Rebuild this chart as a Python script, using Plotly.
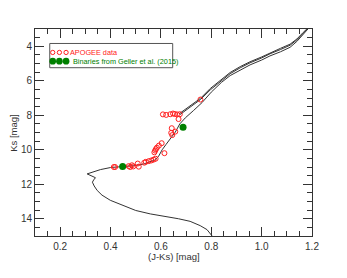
import plotly.graph_objects as go

# Isochrone: main sequence -> turnoff -> subgiant -> red giant branch
iso_x = [0.82, 0.80, 0.783, 0.756, 0.716, 0.67, 0.62, 0.558, 0.50, 0.465, 0.43, 0.399,
         0.366, 0.347, 0.335, 0.328, 0.333, 0.340, 0.307, 0.36, 0.40, 0.44, 0.49, 0.53,
         0.555, 0.575, 0.59, 0.605, 0.62, 0.637, 0.657, 0.675, 0.697, 0.730, 0.763, 0.800,
         0.840, 0.875, 0.915, 0.954, 1.0, 1.033, 1.075, 1.113, 1.14, 1.165, 1.19]
iso_y = [15.3, 14.97, 14.63, 14.40, 14.15, 14.0, 13.88, 13.72, 13.52, 13.33, 13.12, 12.93,
         12.63, 12.36, 12.1, 11.88, 11.75, 11.62, 11.40, 11.15, 11.03, 10.98, 10.93, 10.83,
         10.72, 10.6, 10.4, 10.0, 9.7, 9.35, 8.98, 8.5, 8.15, 7.72, 7.27, 6.66,
         6.1, 5.7, 5.37, 5.08, 4.8, 4.56, 4.32, 4.06, 3.72, 3.3, 2.9]

# Later evolutionary branches (two close tracks)
agb1_x = [0.672, 0.70, 0.73, 0.757, 0.796, 0.835, 0.875, 0.915, 0.954, 1.0, 1.033, 1.075, 1.113, 1.14, 1.165, 1.19]
agb1_y = [7.92, 7.63, 7.31, 7.02, 6.45, 5.97, 5.52, 5.18, 4.90, 4.62, 4.38, 4.12, 3.88, 3.58, 3.2, 2.85]
agb2_x = [0.676, 0.70, 0.73, 0.757, 0.796, 0.835, 0.875, 0.915, 0.954, 1.0, 1.033, 1.075, 1.113, 1.14, 1.165, 1.19]
agb2_y = [7.96, 7.69, 7.38, 7.09, 6.53, 6.04, 5.59, 5.25, 4.96, 4.68, 4.44, 4.19, 3.94, 3.63, 3.25, 2.87]

# APOGEE data
apogee_jk = [0.413, 0.418, 0.472, 0.478, 0.485, 0.490, 0.508, 0.512, 0.534, 0.540,
             0.552, 0.562, 0.571, 0.579, 0.574, 0.577, 0.580, 0.584, 0.592, 0.603,
             0.614, 0.608, 0.621, 0.637, 0.648, 0.655, 0.664, 0.675, 0.670,
             0.643, 0.641, 0.645, 0.657, 0.757]
apogee_ks = [11.00, 11.00, 10.95, 11.00, 10.90, 10.97, 10.80, 10.98, 10.75, 10.70,
             10.66, 10.62, 10.57, 10.52, 10.15, 10.05, 9.97, 9.88, 9.76, 9.62,
             10.20, 7.95, 7.98, 7.94, 7.90, 7.93, 7.95, 7.94, 8.22,
             8.75, 9.02, 9.15, 8.95, 7.09]

# Binaries from Geller et al. (2015)
bin_jk = [0.448, 0.688]
bin_ks = [10.97, 8.70]

x_ticks = [0.2, 0.4, 0.6, 0.8, 1.0, 1.2]
x_ticktext = ["0.2", "0.4", "0.6", "0.8", "1.0", "1.2"]
y_ticks = [4, 6, 8, 10, 12, 14]

legend_labels = ["APOGEE data", "Binaries from Geller et al. (2015)"]

LINE = "#333333"
RED = "#ff2020"
GREEN = "#008000"
FONT = "Liberation Sans, Arial, Helvetica, sans-serif"

fig = go.Figure()
fig.add_trace(go.Scatter(x=iso_x, y=iso_y, mode="lines", line=dict(color=LINE, width=1), showlegend=False))
fig.add_trace(go.Scatter(x=agb1_x, y=agb1_y, mode="lines", line=dict(color=LINE, width=1), showlegend=False))
fig.add_trace(go.Scatter(x=agb2_x, y=agb2_y, mode="lines", line=dict(color=LINE, width=1), showlegend=False))
fig.add_trace(go.Scatter(x=apogee_jk, y=apogee_ks, mode="markers",
                         marker=dict(symbol="circle-open", size=5, color=RED, line=dict(width=1)),
                         showlegend=False))
fig.add_trace(go.Scatter(x=bin_jk, y=bin_ks, mode="markers",
                         marker=dict(symbol="circle", size=7, color=GREEN),
                         showlegend=False))

axis_common = dict(
    showgrid=False, zeroline=False, showline=True, linecolor="#333333", linewidth=1,
    mirror="allticks", ticks="inside", ticklen=9, tickcolor="#333333", tickwidth=1,
    tickfont=dict(family=FONT, size=10, color="#333333"),
)
fig.update_xaxes(range=[0.1, 1.2], tickvals=x_ticks, ticktext=x_ticktext, ticklabelstandoff=1,
                 minor=dict(dtick=0.05, tick0=0.1, ticks="inside", ticklen=5, tickcolor="#333333"),
                 **axis_common)
fig.update_yaxes(range=[15, 3], tickvals=y_ticks,
                 minor=dict(dtick=0.5, tick0=3, ticks="inside", ticklen=5, tickcolor="#333333"),
                 **axis_common)

# Axis titles
fig.add_annotation(xref="paper", yref="paper", x=0.5, y=-0.099, xanchor="center", yanchor="middle",
                   showarrow=False, text="(J-Ks) [mag]", borderpad=0,
                   font=dict(family=FONT, size=9.5, color="#333333"))
fig.add_annotation(xref="paper", yref="paper", x=-0.0784, y=0.5, xanchor="center", yanchor="middle",
                   showarrow=False, text="Ks [mag]", textangle=-90,
                   font=dict(family=FONT, size=9.5, color="#333333"))

# Legend box drawn like the original (three symbols per entry)
fig.add_shape(type="rect", xref="paper", yref="paper", x0=0.0532, x1=0.4971, y0=0.8130, y1=0.9301,
              line=dict(color="#555555", width=1), fillcolor="rgba(0,0,0,0)")
sym_x = [0.0640, 0.0881, 0.1122]
row_y = [0.8867, 0.8448]
ro_w, ro_h = 4.3 / 278 / 2, 4.3 / 207.5 / 2
gf_w, gf_h = 6.7 / 278 / 2, 6.7 / 207.5 / 2
for sx in sym_x:
    fig.add_shape(type="circle", xref="paper", yref="paper",
                  x0=sx - ro_w, x1=sx + ro_w, y0=row_y[0] - ro_h, y1=row_y[0] + ro_h,
                  line=dict(color=RED, width=1), fillcolor="rgba(0,0,0,0)")
    fig.add_shape(type="circle", xref="paper", yref="paper",
                  x0=sx - gf_w, x1=sx + gf_w, y0=row_y[1] - gf_h, y1=row_y[1] + gf_h,
                  line=dict(color=GREEN, width=0), fillcolor=GREEN)
fig.add_annotation(xref="paper", yref="paper", x=0.1235, y=row_y[0], xanchor="left", yanchor="middle",
                   showarrow=False, text=legend_labels[0], borderpad=0,
                   font=dict(family=FONT, size=7.3, color=RED))
fig.add_annotation(xref="paper", yref="paper", x=0.1325, y=row_y[1], xanchor="left", yanchor="middle",
                   showarrow=False, text=legend_labels[1], borderpad=0,
                   font=dict(family=FONT, size=7.3, color=GREEN))

# The page body adds an 8 px offset, so the figure is sized to fit the window.
fig.update_layout(
    width=339, height=270,
    margin=dict(l=26.5, r=34.5, t=20.5, b=42),
    paper_bgcolor="white", plot_bgcolor="white",
    showlegend=False,
)
fig.write_html("out.html")
